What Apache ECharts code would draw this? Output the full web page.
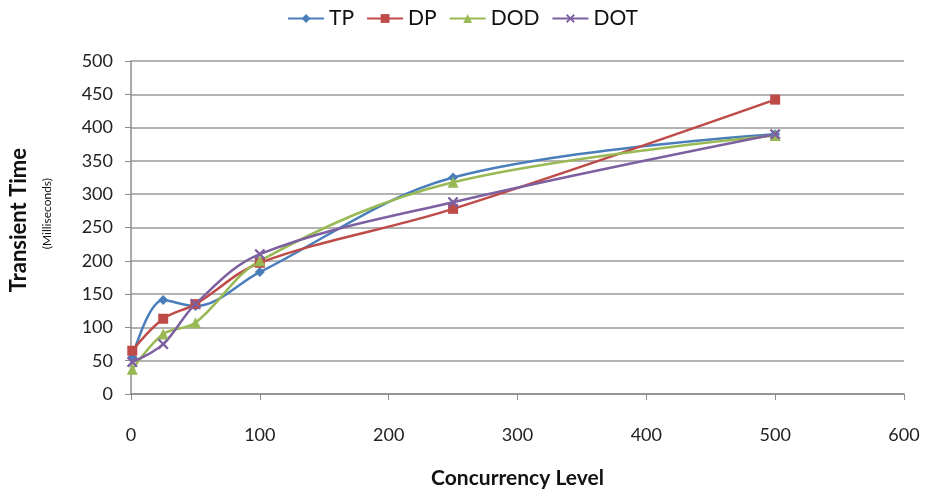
<!DOCTYPE html>
<html><head><meta charset="utf-8">
<script src="https://cdn.jsdelivr.net/npm/echarts@6/dist/echarts.min.js"></script>
<style>html,body{margin:0;padding:0;background:#fff}#c{width:925px;height:497px}</style>
</head><body><div id="c"></div>
<script>
const xValues = [1, 25, 50, 100, 250, 500];
const TP = [55, 141, 132, 183, 325, 390];
const DP = [65, 113, 135, 197, 278, 442];
const DOD = [37, 90, 107, 200, 318, 388];
const DOT = [48, 75, 135, 210, 288, 390];
const seriesNames = ['TP', 'DP', 'DOD', 'DOT'];
const xTicks = [0, 100, 200, 300, 400, 500, 600];
const yTicks = [0, 50, 100, 150, 200, 250, 300, 350, 400, 450, 500];

const font = 'Lato, "Liberation Sans", Arial, sans-serif';
const colors = ['#4A7EBB', '#BE4B48', '#98B954', '#7D60A0'];
const xShape = 'path://M0,1.5L1.5,0L5,3.5L8.5,0L10,1.5L6.5,5L10,8.5L8.5,10L5,6.5L1.5,10L0,8.5L3.5,5Z';
const symbols = ['diamond', 'rect', 'triangle', xShape];
const sizes = [10, 10, 11, 11];
const data = [TP, DP, DOD, DOT];

const chart = echarts.init(document.getElementById('c'));
chart.setOption({
  animation: false,
  color: colors,
  legend: {
    top: 3, left: 'center',
    itemWidth: 36, itemHeight: 11, itemGap: 12,
    textStyle: { fontFamily: font, fontSize: 21, color: '#111' },
    data: seriesNames
  },
  grid: { left: 131, right: 21, top: 61, bottom: 103 },
  xAxis: {
    type: 'value', min: 0, max: 600, interval: 100,
    axisLine: { lineStyle: { color: '#8c8c8c', width: 1.5 } },
    axisTick: { show: true, length: 6, lineStyle: { color: '#8c8c8c' } },
    axisLabel: { margin: 32, fontFamily: font, fontSize: 18, color: '#222' },
    splitLine: { show: false },
    name: 'Concurrency Level', nameLocation: 'middle', nameGap: 74,
    nameTextStyle: { fontFamily: font, fontSize: 21, fontWeight: 'bold', color: '#111' }
  },
  yAxis: {
    type: 'value', min: 0, max: 500, interval: 50,
    axisLine: { show: true, lineStyle: { color: '#8c8c8c', width: 1.5 } },
    axisTick: { show: true, length: 6, lineStyle: { color: '#8c8c8c' } },
    axisLabel: { margin: 18, fontFamily: font, fontSize: 18, color: '#222' },
    splitLine: { lineStyle: { color: '#9a9a9a', width: 1.5 } }
  },
  graphic: [
    { type: 'text', left: 8, top: 148, rotation: Math.PI / 2,
      style: { text: 'Transient Time', font: 'bold 22px ' + font, fill: '#111' } },
    { type: 'text', left: 41, top: 178, rotation: Math.PI / 2,
      style: { text: '(Milliseconds)', font: '12px ' + font, fill: '#111' } }
  ],
  series: seriesNames.map((n, i) => ({
    name: n, type: 'line', smooth: 0.35,
    data: xValues.map((x, j) => [x, data[i][j]]),
    symbol: symbols[i], symbolSize: sizes[i],
    lineStyle: { width: 2.5 },
    itemStyle: { color: colors[i] }
  }))
});
</script></body></html>
